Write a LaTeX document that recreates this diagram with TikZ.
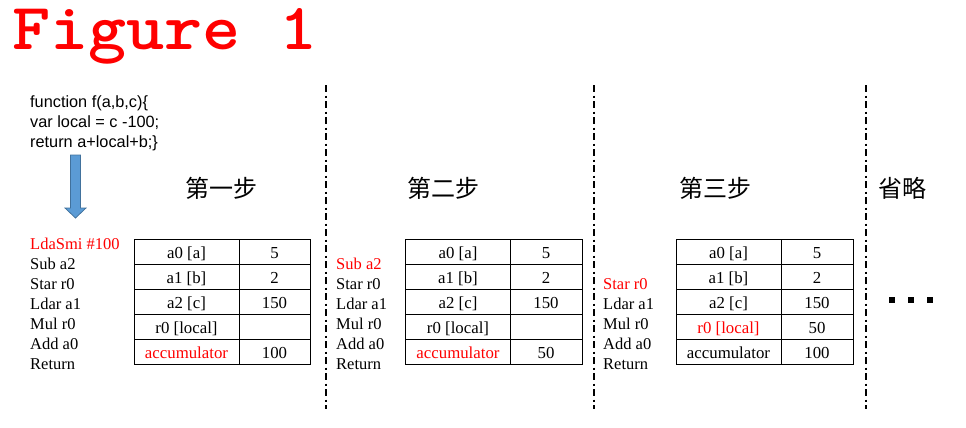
\documentclass[tikz,border=0pt]{standalone}
\usepackage{fontspec}
\setmainfont{Liberation Serif}
\newfontfamily\codefont{Liberation Sans}
\newfontfamily\cjk{Noto Sans CJK SC}
\definecolor{arrowfill}{HTML}{5B9BD5}
\definecolor{arrowline}{HTML}{41719C}
\begin{document}
\begin{tikzpicture}[x=1pt,y=-1pt,
  instr/.style={anchor=base west, inner sep=0pt, font=\fontsize{16.5}{16.5}\selectfont},
  cell/.style={anchor=base, inner sep=0pt, font=\fontsize{16.8}{16.8}\selectfont},
  codeline/.style={anchor=base west, inner sep=0pt, font=\codefont\fontsize{16.3}{16.3}\selectfont},
  header/.style={anchor=base, inner sep=0pt, font=\cjk\fontsize{24}{24}\selectfont},
  divider/.style={line width=2pt, dash pattern=on 7pt off 3.5pt on 2pt off 3.5pt},
  gridline/.style={line width=1pt},
  hl/.style={text=red},
  dot/.style={fill=black}]
\useasboundingbox (0,0) rectangle (966,428);
% title
\node[anchor=base west, inner sep=0pt, text=red, font=\ttfamily\bfseries\fontsize{66}{66}\selectfont] (title) at (12,50) {\scalebox{1.1}[1]{Figure 1}};
% code
\node[codeline] (c1) at (30,107) {function f(a,b,c)\{};
\node[codeline] (c2) at (30,127) {var local = c -100;};
\node[codeline] (c3) at (30,147) {return a+local+b;\}};
% block arrow
\draw[arrowline, fill=arrowfill, line width=0.75pt] (70.5,155) -- (80.5,155) -- (80.5,208) -- (86,208) -- (75.5,218) -- (65,208) -- (70.5,208) -- cycle;
% headers
\node[header] (h1) at (221,197) {第一步};
\node[header] (h2) at (443,197) {第二步};
\node[header] (h3) at (715,197) {第三步};
\node[header] (h4) at (902,197) {省略};
% dividers
\coordinate (d1t) at (326,85); \coordinate (d1b) at (326,409);
\coordinate (d2t) at (594,85); \coordinate (d2b) at (594,409);
\coordinate (d3t) at (866,85); \coordinate (d3b) at (866,409);
\draw[divider] (d1t) -- (d1b);
\draw[divider] (d2t) -- (d2b);
\draw[divider] (d3t) -- (d3b);
% instruction list 1
\node[instr,hl] (a1) at (30,249) {LdaSmi \#100};
\node[instr] (a2) at (30,269) {Sub a2};
\node[instr] (a3) at (30,289) {Star r0};
\node[instr] (a4) at (30,309) {Ldar a1};
\node[instr] (a5) at (30,329) {Mul r0};
\node[instr] (a6) at (30,349) {Add a0};
\node[instr] (a7) at (30,369) {Return};
% instruction list 2
\node[instr,hl] (b2) at (336,269) {Sub a2};
\node[instr] (b3) at (336,289) {Star r0};
\node[instr] (b4) at (336,309) {Ldar a1};
\node[instr] (b5) at (336,329) {Mul r0};
\node[instr] (b6) at (336,349) {Add a0};
\node[instr] (b7) at (336,369) {Return};
% instruction list 3
\node[instr,hl] (e3) at (603,289) {Star r0};
\node[instr] (e4) at (603,309) {Ldar a1};
\node[instr] (e5) at (603,329) {Mul r0};
\node[instr] (e6) at (603,349) {Add a0};
\node[instr] (e7) at (603,369) {Return};
% table grids
\foreach \xl/\xs/\xr in {134/239/310, 405.5/510.5/582, 676/781/853}{
  \draw[gridline] (\xl,239) rectangle (\xr,364);
  \draw[gridline] (\xs,239) -- (\xs,364);
  \foreach \yy in {264,289,314,339} \draw[gridline] (\xl,\yy) -- (\xr,\yy);
}
% table 1
\node[cell] (t1a) at (186.5,258) {a0 [a]};       \node[cell] (t1av) at (274.5,258) {5};
\node[cell] (t1b) at (186.5,283) {a1 [b]};       \node[cell] (t1bv) at (274.5,283) {2};
\node[cell] (t1c) at (186.5,308) {a2 [c]};       \node[cell] (t1cv) at (274.5,308) {150};
\node[cell] (t1d) at (186.5,333) {r0 [local]};
\node[cell,hl] (t1e) at (186.5,358) {accumulator}; \node[cell] (t1ev) at (274.5,358) {100};
% table 2
\node[cell] (t2a) at (458,258) {a0 [a]};       \node[cell] (t2av) at (546,258) {5};
\node[cell] (t2b) at (458,283) {a1 [b]};       \node[cell] (t2bv) at (546,283) {2};
\node[cell] (t2c) at (458,308) {a2 [c]};       \node[cell] (t2cv) at (546,308) {150};
\node[cell] (t2d) at (458,333) {r0 [local]};
\node[cell,hl] (t2e) at (458,358) {accumulator}; \node[cell] (t2ev) at (546,358) {50};
% table 3
\node[cell] (t3a) at (728.5,258) {a0 [a]};       \node[cell] (t3av) at (817,258) {5};
\node[cell] (t3b) at (728.5,283) {a1 [b]};       \node[cell] (t3bv) at (817,283) {2};
\node[cell] (t3c) at (728.5,308) {a2 [c]};       \node[cell] (t3cv) at (817,308) {150};
\node[cell,hl] (t3d) at (728.5,333) {r0 [local]}; \node[cell] (t3dv) at (817,333) {50};
\node[cell] (t3e) at (728.5,358) {accumulator};  \node[cell] (t3ev) at (817,358) {100};
% ellipsis squares
\fill[dot] (889,297) rectangle (895,303);
\fill[dot] (908,297) rectangle (914,303);
\fill[dot] (927,297) rectangle (933,303);
\end{tikzpicture}
\end{document}
